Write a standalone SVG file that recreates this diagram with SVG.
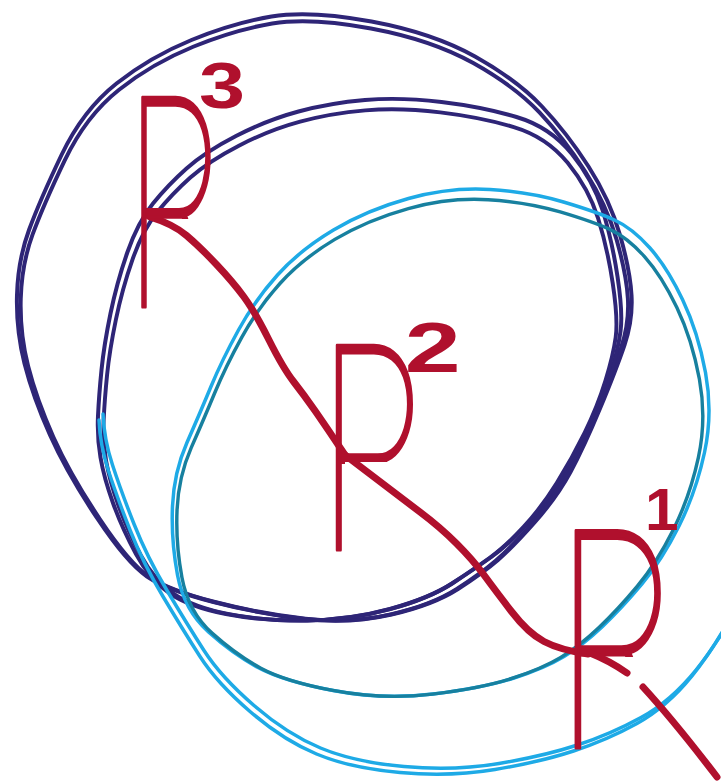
<svg xmlns="http://www.w3.org/2000/svg" xmlns:xlink="http://www.w3.org/1999/xlink" width="721" height="784" viewBox="0 0 721 784">
<style>
.navy{fill:none;stroke:#2e2577;stroke-width:4;stroke-linecap:round;stroke-linejoin:round}
.cyan{fill:none;stroke:#1eaae6;stroke-width:3.5;stroke-linecap:round;stroke-linejoin:round}
.teal{fill:none;stroke:#17809f;stroke-width:3.5;stroke-linecap:round;stroke-linejoin:round}
.red{fill:none;stroke:#b0102d;stroke-width:7;stroke-linecap:round;stroke-linejoin:round}
.rt{font-family:Roboto,Lato,Inter,sans-serif;font-weight:100;fill:#b0102d;stroke:#b0102d;stroke-width:2.5;stroke-linejoin:round;vector-effect:non-scaling-stroke}
.sup{font-family:"Liberation Sans",Arial,sans-serif;font-weight:bold;stroke:none}
</style>
<defs>
<path id="loopA" d="M371.5,21.5 Q433,33 475,56.5 Q517,80 542,106.5 Q567,133 588.5,166.5 Q610,200 620,235 Q630,270 631.5,295 Q633,320 624.5,345 Q616,370 600,408.5 Q584,447 570.5,472 Q557,497 535,522 Q513,547 498,560 Q483,573 458,589 Q433,605 391.5,614.5 Q350,624 305,619 Q260,614 213.5,602 Q167,590 147,576.5 Q127,563 97,518 Q67,473 50,435 Q33,397 24.5,363.5 Q16,330 17,295 Q18,260 29,230 Q40,200 61.5,155 Q83,110 116.5,83.5 Q150,57 191.5,40 Q233,23 271.5,16.5 Q310,10 371.5,21.5 Z"/>
<path id="loopB" d="M441.5,102 Q483,107 516.5,117 Q550,127 571.5,153.5 Q593,180 602.5,210 Q612,240 617.5,276.5 Q623,313 620.5,331.5 Q618,350 610,376 Q602,402 589,428.5 Q576,455 560.5,480 Q545,505 526.5,525 Q508,545 492,556.5 Q476,568 453,583 Q430,598 390,609 Q350,620 306,620.5 Q262,621 226,614 Q190,607 170,593.5 Q150,580 136,554 Q122,528 113,503 Q104,478 100.5,457.5 Q97,437 98,416 Q99,395 101.5,370 Q104,345 110.5,313.5 Q117,282 127.5,252 Q138,222 153,203.5 Q168,185 186.5,168.5 Q205,152 236,136 Q267,120 298.5,111.5 Q330,103 365,100 Q400,97 441.5,102 Z"/>
<path id="loopC1" d="M490,189.5 Q530,192 563.5,202 Q597,212 614.5,220 Q632,228 649.5,247.5 Q667,267 682.5,299.5 Q698,332 705.5,372.5 Q713,413 704.5,452.5 Q696,492 679,526 Q662,560 642,584 Q622,608 602.5,626.5 Q583,645 564,656.5 Q545,668 514,678 Q483,688 433,694 Q383,700 333,690.5 Q283,681 258,667.5 Q233,654 208.5,632 Q184,610 177.5,575 Q171,540 172.5,506 Q174,472 187,442.5 Q200,413 211,386.5 Q222,360 238.5,330 Q255,300 277.5,275 Q300,250 333.5,230 Q367,210 408.5,198.5 Q450,187 490,189.5 Z"/>
<path id="arcC2" d="M99,420 Q100,445 108.5,471 Q117,497 130,530 Q143,563 163,596.5 Q183,630 200,656.5 Q217,683 250,711.5 Q283,740 316.5,754 Q350,768 400,772.5 Q450,777 495,769.5 Q540,762 573.5,751 Q607,740 637,723.5 Q667,707 692,676 Q717,645 740,600"/>
<clipPath id="clipR3"><path clip-rule="evenodd" d="M0,0H721V784H0Z M155,219H248V330H155Z"/></clipPath>
<clipPath id="clipR2"><path clip-rule="evenodd" d="M0,0H721V784H0Z M345,462H440V565H345Z"/></clipPath>
<clipPath id="clipR1"><path clip-rule="evenodd" d="M0,0H721V784H0Z M587,657H705V784H587Z"/></clipPath>
</defs>
<g id="circle-outer">
<use xlink:href="#loopA" class="navy"/>
<use xlink:href="#loopA" class="navy" transform="translate(330 600) scale(0.988) translate(-330 -600)"/>
</g>
<g id="circle-inner">
<use xlink:href="#loopB" class="navy"/>
<use xlink:href="#loopB" class="navy" transform="translate(380 620) scale(0.98) translate(-380 -620)"/>
</g>
<g id="circle-cyan">
<use xlink:href="#loopC1" class="cyan"/>
<use xlink:href="#loopC1" class="teal" transform="translate(400 700) scale(0.98) translate(-400 -700)"/>
</g>
<g id="arc-cyan">
<use xlink:href="#arcC2" class="cyan"/>
<use xlink:href="#arcC2" class="cyan" transform="translate(4 -6)"/>
</g>
<g id="connectors">
<path class="red" d="M150,217 Q173,224 186.5,235.5 Q200,247 216.5,264.5 Q233,282 244,297 Q255,312 269,340 Q283,368 293.5,381.5 Q304,395 314.5,410 Q325,425 345,455"/>
<path class="red" d="M345,455 Q400,497 420,512 Q440,527 456.5,543.5 Q473,560 484,575 Q495,590 511.5,611.5 Q528,633 544,641.5 Q560,650 588,654"/>
<path class="red" d="M643,687 Q675,722 717,777"/>
</g>
<g id="node-r3">
<g clip-path="url(#clipR3)">
<text class="rt" font-size="295" transform="translate(128 307) scale(0.5 1)">R<tspan class="sup" x="142" y="-199" font-size="64" textLength="92" lengthAdjust="spacingAndGlyphs">3</tspan></text>
</g>
</g>
<g id="node-r2">
<g clip-path="url(#clipR2)">
<text class="rt" font-size="288" transform="translate(321 550) scale(0.57 1)">R<tspan class="sup" x="147" y="-178" font-size="70" textLength="98" lengthAdjust="spacingAndGlyphs">2</tspan></text>
</g>
</g>
<g id="node-r1">
<g clip-path="url(#clipR1)">
<text class="rt" font-size="306" transform="translate(558 748) scale(0.6 1)">R<tspan class="sup" x="145" y="-218" font-size="60" textLength="56" lengthAdjust="spacingAndGlyphs">1</tspan></text>
</g>
<path class="red" d="M590,653 Q610,661 627,673"/>
</g>
</svg>
